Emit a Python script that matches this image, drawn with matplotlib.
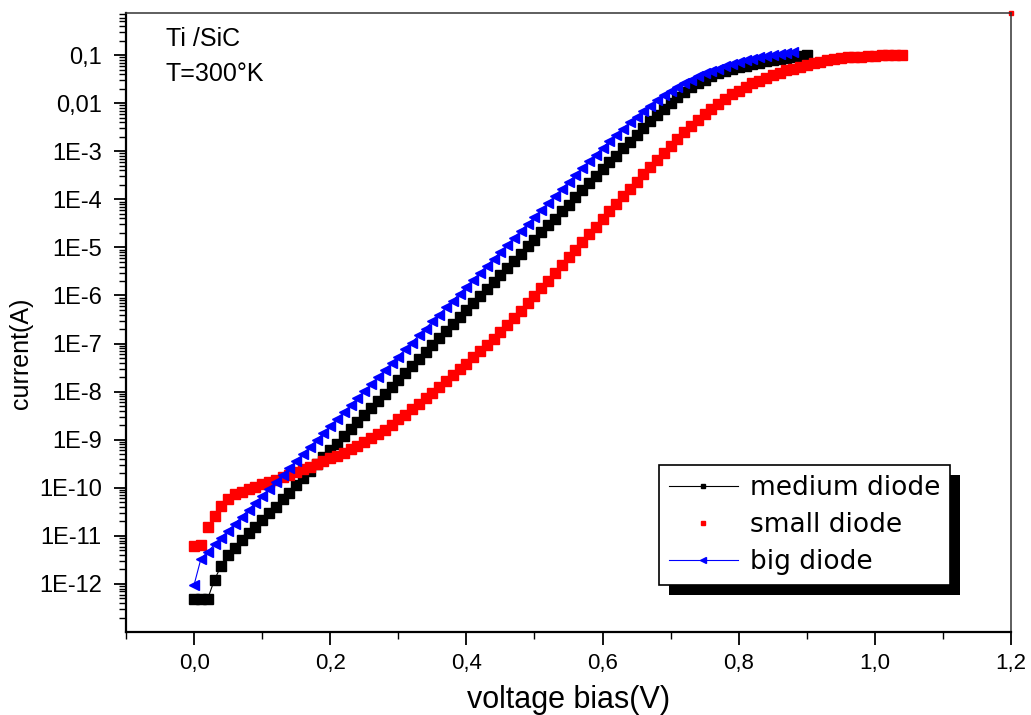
import numpy as np
import matplotlib
matplotlib.use("Agg")
import matplotlib.pyplot as plt
from matplotlib.patches import Rectangle
from matplotlib.transforms import IdentityTransform
from matplotlib.ticker import FixedLocator, LogLocator, NullFormatter

plt.rcParams['font.family'] = ['Liberation Sans', 'DejaVu Sans']

# ---- data (voltage sweep in V, currents read as log10(I/A)) ----
voltage = [0.00, 0.01, 0.02, 0.03, 0.04, 0.05, 0.06, 0.07, 0.08, 0.09,
           0.10, 0.11, 0.12, 0.13, 0.14, 0.15, 0.16, 0.17, 0.18, 0.19,
           0.20, 0.21, 0.22, 0.23, 0.24, 0.25, 0.26, 0.27, 0.28, 0.29,
           0.30, 0.31, 0.32, 0.33, 0.34, 0.35, 0.36, 0.37, 0.38, 0.39,
           0.40, 0.41, 0.42, 0.43, 0.44, 0.45, 0.46, 0.47, 0.48, 0.49,
           0.50, 0.51, 0.52, 0.53, 0.54, 0.55, 0.56, 0.57, 0.58, 0.59,
           0.60, 0.61, 0.62, 0.63, 0.64, 0.65, 0.66, 0.67, 0.68, 0.69,
           0.70, 0.71, 0.72, 0.73, 0.74, 0.75, 0.76, 0.77, 0.78, 0.79,
           0.80, 0.81, 0.82, 0.83, 0.84, 0.85, 0.86, 0.87, 0.88, 0.89,
           0.90, 0.91, 0.92, 0.93, 0.94, 0.95, 0.96, 0.97, 0.98, 0.99,
           1.00, 1.01, 1.02, 1.03, 1.04]

medium_log_i = [-12.31, -12.31, -12.31, -11.91, -11.62, -11.40, -11.25, -11.08, -10.95, -10.82,
                -10.68, -10.53, -10.39, -10.24, -10.10, -9.95, -9.80, -9.66, -9.51, -9.37,
                -9.22, -9.08, -8.93, -8.78, -8.64, -8.49, -8.35, -8.20, -8.05, -7.91,
                -7.76, -7.62, -7.47, -7.32, -7.18, -7.03, -6.88, -6.74, -6.59, -6.45,
                -6.30, -6.15, -6.01, -5.86, -5.71, -5.57, -5.42, -5.28, -5.13, -4.98,
                -4.84, -4.69, -4.54, -4.40, -4.25, -4.11, -3.96, -3.81, -3.67, -3.52,
                -3.38, -3.23, -3.09, -2.94, -2.80, -2.66, -2.52, -2.38, -2.25, -2.12,
                -1.99, -1.88, -1.77, -1.67, -1.58, -1.51, -1.44, -1.38, -1.33, -1.29,
                -1.25, -1.22, -1.19, -1.16, -1.13, -1.11, -1.09, -1.06, -1.04, -1.02,
                -1.00]

small_log_i = [-11.22, -11.20, -10.82, -10.58, -10.38, -10.24, -10.14, -10.08, -10.03, -9.98,
               -9.93, -9.88, -9.83, -9.78, -9.73, -9.67, -9.61, -9.56, -9.50, -9.45,
               -9.39, -9.33, -9.27, -9.20, -9.13, -9.05, -8.97, -8.88, -8.79, -8.69,
               -8.58, -8.48, -8.37, -8.26, -8.14, -8.02, -7.90, -7.78, -7.66, -7.54,
               -7.42, -7.29, -7.16, -7.03, -6.90, -6.77, -6.62, -6.47, -6.32, -6.16,
               -6.01, -5.85, -5.69, -5.53, -5.37, -5.21, -5.05, -4.89, -4.73, -4.57,
               -4.41, -4.25, -4.09, -3.93, -3.78, -3.63, -3.48, -3.33, -3.18, -3.03,
               -2.89, -2.75, -2.61, -2.48, -2.35, -2.23, -2.12, -2.01, -1.91, -1.82,
               -1.74, -1.66, -1.59, -1.53, -1.47, -1.42, -1.37, -1.32, -1.28, -1.24,
               -1.20, -1.17, -1.14, -1.11, -1.09, -1.07, -1.05, -1.04, -1.03, -1.02,
               -1.01, -1.00, -1.00, -1.00, -1.00]
small_extra_v = [1.20]
small_extra_i = [0.75]

big_log_i = [-12.02, -11.48, -11.33, -11.18, -11.04, -10.89, -10.75, -10.60, -10.46, -10.31,
             -10.17, -10.02, -9.88, -9.73, -9.59, -9.44, -9.30, -9.15, -9.01, -8.86,
             -8.72, -8.57, -8.43, -8.28, -8.14, -7.99, -7.85, -7.70, -7.56, -7.41,
             -7.27, -7.12, -6.98, -6.83, -6.69, -6.54, -6.40, -6.25, -6.11, -5.96,
             -5.82, -5.67, -5.53, -5.38, -5.24, -5.09, -4.95, -4.80, -4.66, -4.51,
             -4.37, -4.22, -4.08, -3.93, -3.79, -3.64, -3.50, -3.35, -3.21, -3.07,
             -2.93, -2.79, -2.66, -2.53, -2.40, -2.28, -2.16, -2.05, -1.94, -1.84,
             -1.75, -1.66, -1.58, -1.51, -1.44, -1.38, -1.33, -1.28, -1.23, -1.19,
             -1.15, -1.11, -1.08, -1.05, -1.02, -0.99, -0.97, -0.95, -0.93]

labels = ["medium diode", "small diode", "big diode"]
x_ticks = [0.0, 0.2, 0.4, 0.6, 0.8, 1.0, 1.2]
x_tick_labels = ["0,0", "0,2", "0,4", "0,6", "0,8", "1,0", "1,2"]
x_minor = [-0.1, 0.1, 0.3, 0.5, 0.7, 0.9, 1.1]
y_ticks = [1e-12, 1e-11, 1e-10, 1e-9, 1e-8, 1e-7, 1e-6, 1e-5, 1e-4, 1e-3, 1e-2, 1e-1]
y_tick_labels = ["1E-12", "1E-11", "1E-10", "1E-9", "1E-8", "1E-7", "1E-6",
                 "1E-5", "1E-4", "1E-3", "0,01", "0,1"]

# ---- figure ----
W, H = 1031, 715
fig = plt.figure(figsize=(W / 100, H / 100), dpi=100)
ax = fig.add_axes([126 / W, 1 - 632 / H, (1011 - 126) / W, (632 - 13) / H])
ax.set_yscale('log')

v = np.array(voltage)
med_i = 10 ** np.array(medium_log_i)
sml_i = 10 ** np.array(small_log_i)
big_i = 10 ** np.array(big_log_i)

ms = 7
l1, = ax.plot(v[:len(med_i)], med_i, color='black', lw=0.8, marker='s', ms=ms,
              mec='black', mfc='black', label=labels[0])
l2, = ax.plot(v[:len(sml_i)], sml_i, color='red', ls='none', marker='s', ms=ms,
              mec='red', mfc='red', label=labels[1])
ax.plot(small_extra_v, small_extra_i, color='red', ls='none', marker='s', ms=3.5,
        clip_on=False)
l3, = ax.plot(v[:len(big_i)], big_i, color='blue', lw=0.8, marker='<', ms=ms + 0.5,
              mec='blue', mfc='blue', label=labels[2])

ax.set_xlim(-0.1, 1.2)
ax.set_ylim(1e-13, 0.75)

ax.xaxis.set_major_locator(FixedLocator(x_ticks))
ax.set_xticklabels(x_tick_labels)
ax.xaxis.set_minor_locator(FixedLocator(x_minor))
ax.yaxis.set_major_locator(FixedLocator(y_ticks))
ax.set_yticklabels(y_tick_labels)
ax.yaxis.set_minor_locator(LogLocator(base=10, subs=np.arange(2, 10), numticks=100))
ax.yaxis.set_minor_formatter(NullFormatter())

ax.tick_params(axis='both', which='both', direction='out', top=False, right=False)
ax.tick_params(axis='both', which='major', length=9, width=1.3)
ax.tick_params(axis='both', which='minor', length=5, width=1.0)
ax.tick_params(axis='y', which='major', labelsize=17, pad=8.5)
ax.tick_params(axis='x', which='major', labelsize=16, pad=6)

for s in ['left', 'bottom']:
    ax.spines[s].set_linewidth(1.6)
for s in ['top', 'right']:
    ax.spines[s].set_linewidth(1.1)
    ax.spines[s].set_color('#333333')

ax.set_xlabel("voltage bias(V)", fontsize=22)
ax.xaxis.set_label_coords(0.5, -0.085)
ax.set_ylabel("current(A)", fontsize=18)
ax.yaxis.set_label_coords(-0.105, 0.45)

ax.text((166 - 126) / 885, (632 - 39) / 619, "Ti /SiC", transform=ax.transAxes,
        fontsize=18, va='center', ha='left')
ax.text((166 - 126) / 885, (632 - 74) / 619, "T=300°K", transform=ax.transAxes,
        fontsize=18, va='center', ha='left')

leg = ax.legend(handles=[l1, l2, l3], loc='upper left',
                bbox_to_anchor=((659 - 126) / 885, (632 - 465) / 619),
                frameon=True, fancybox=False, framealpha=1, edgecolor='black',
                prop={'family': 'DejaVu Sans', 'size': 19}, handlelength=2.6,
                markerscale=0.5, borderpad=0.38, labelspacing=0.42,
                handletextpad=0.45, borderaxespad=0)
leg.get_frame().set_linewidth(1.2)
leg.set_zorder(10)

fig.canvas.draw()
bb = leg.get_window_extent()
shadow = Rectangle((bb.x0 + 10, bb.y0 - 10), bb.width, bb.height,
                   transform=IdentityTransform(), facecolor='black',
                   edgecolor='none', zorder=9, clip_on=False)
ax.add_artist(shadow)

fig.savefig("out.png", dpi=100)
